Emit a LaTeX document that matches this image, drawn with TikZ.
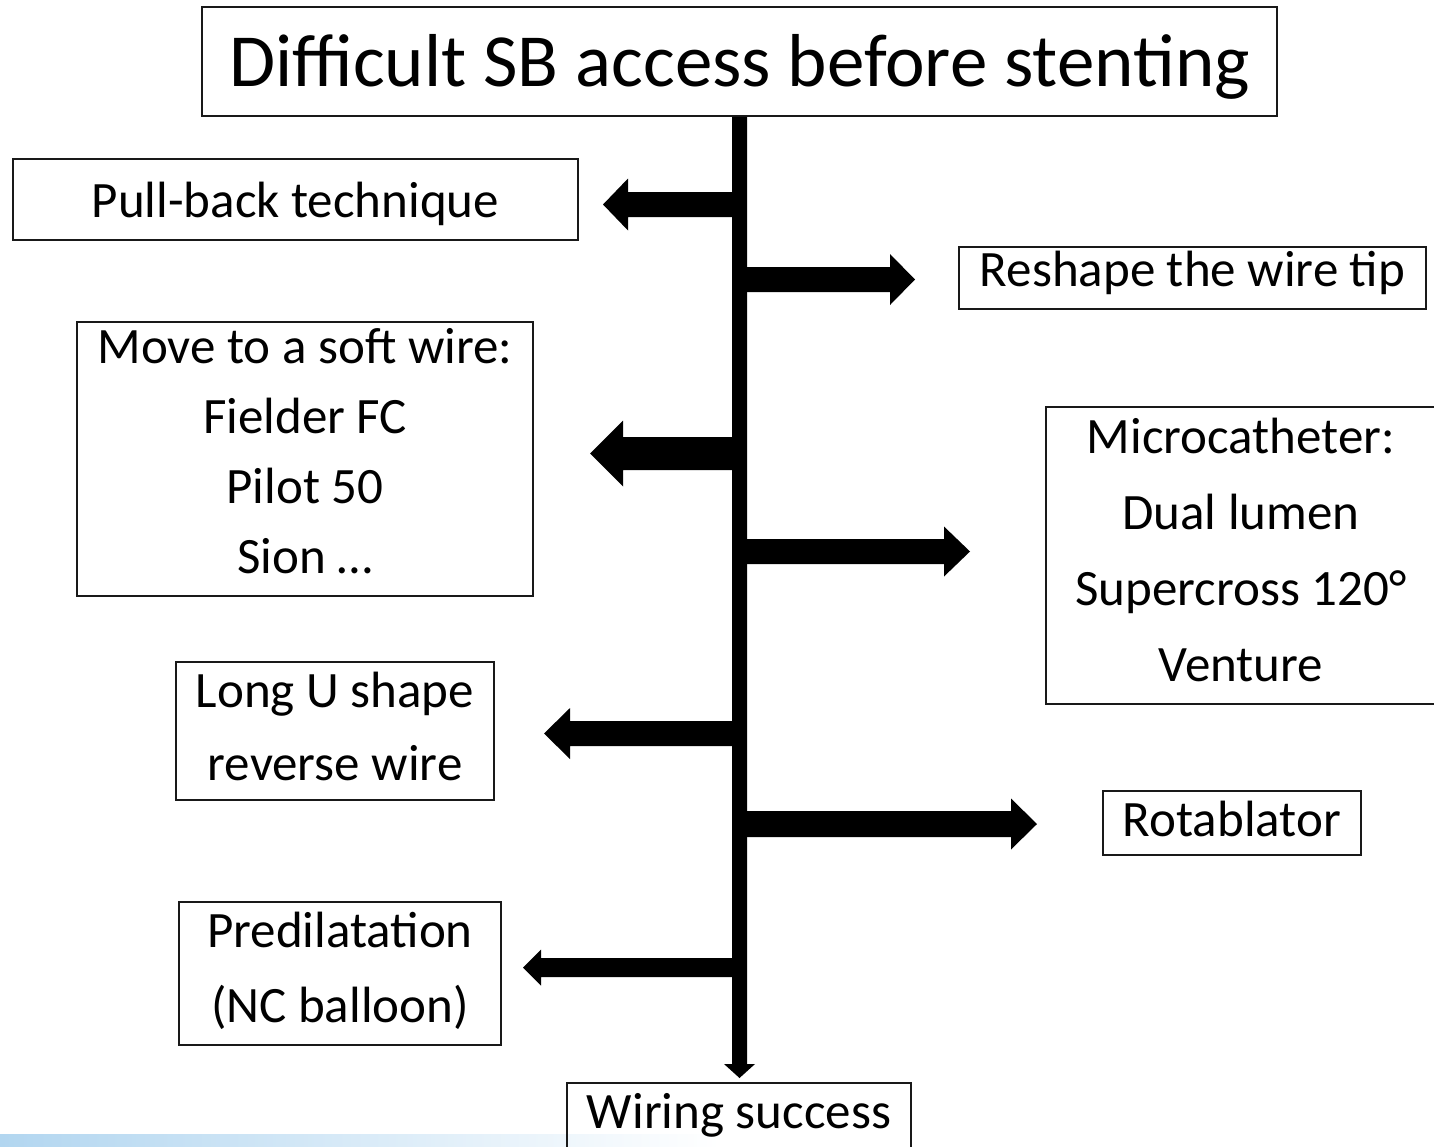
\documentclass[tikz,border=0pt]{standalone}
\usepackage{fontspec}
\setmainfont{Carlito}
\usetikzlibrary{calc}
\definecolor{barblue}{RGB}{178,214,240}
\tikzset{
  box/.style={draw=black!90, line width=1.5pt, inner sep=0pt},
  txt/.style={inner sep=0pt, align=center},
  fbig/.style={font=\fontsize{75}{90}\selectfont},
  fmid/.style={font=\fontsize{51}{#1}\selectfont},
  fmid/.default=72,
}
\newcommand\fatarrow[5]{\fill[black] let \p1=(#1),\p2=(#2) in
  (\x1,\y1-#3pt) -- (\x2-#5pt,\y1-#3pt) -- (\x2-#5pt,\y1-#4pt) -- (\x2,\y1)
  -- (\x2-#5pt,\y1+#4pt) -- (\x2-#5pt,\y1+#3pt) -- (\x1,\y1+#3pt) -- cycle;}
\newcommand\fatdown[5]{\fill[black] let \p1=(#1),\p2=(#2) in
  (\x1-#3pt,\y1) -- (\x1-#3pt,\y2+#5pt) -- (\x1-#4pt,\y2+#5pt) -- (\x1,\y2)
  -- (\x1+#4pt,\y2+#5pt) -- (\x1+#3pt,\y2+#5pt) -- (\x1+#3pt,\y1) -- cycle;}
\begin{document}
\begin{tikzpicture}[x=1pt,y=-1pt]
\useasboundingbox (0,0) rectangle (1434,1146);
\clip (0,0) rectangle (1434,1146);
\fill[white] (0,0) rectangle (1434,1146);
% bottom gradient bar
\shade[left color=barblue, right color=white] (0,1134) rectangle (720,1146);

% boxes
\node[box, minimum width=1075, minimum height=109] (title) at (739.5,61.5) {};
\node[box, minimum width=565, minimum height=81] (pull) at (295.5,199.5) {};
\node[box, minimum width=467, minimum height=62] (reshape) at (1192.5,278) {};
\node[box, minimum width=456, minimum height=274] (move) at (305,459) {};
\node[box, minimum width=390, minimum height=297] (micro) at (1241,555.5) {};
\node[box, minimum width=318, minimum height=138] (longu) at (335,731) {};
\node[box, minimum width=258, minimum height=64] (rota) at (1232,823) {};
\node[box, minimum width=322, minimum height=143] (predil) at (340,973.5) {};
\node[box, minimum width=344, minimum height=120] (wiring) at (739,1143) {};

% texts
\node[txt, fbig] (title-t) at (739.5,67) {Difficult SB access before stenting};
\node[txt, fmid] (pull-t) at (295.5,203.5) {Pull-back technique};
\node[txt, fmid] (reshape-t) at (1192.5,273) {Reshape the wire tip};
\node[txt, fmid=70] (move-t) at (305,451) {Move to a soft wire:\\Fielder FC\\Pilot 50\\Sion \ldots};
\node[txt, fmid=76] (micro-t) at (1241,549.5) {Microcatheter:\\Dual lumen\\Supercross 120°\\Venture};
\node[txt, fmid=73] (longu-t) at (335,726) {Long U shape\\reverse wire};
\node[txt, fmid] (rota-t) at (1232,818.5) {Rotablator};
\node[txt, fmid=75] (predil-t) at (340,970.5) {Predilatation\\(NC balloon)};
\node[txt, fmid] (wiring-t) at (739,1115) {Wiring success};

% trunk
\coordinate (trunktip) at (739.5,1078);
\fatdown{title.south}{trunktip}{7.5}{15.5}{14}

% branch arrows
\coordinate (s1) at (739.5,204.5); \coordinate (t1) at (603,204.5);
\coordinate (s2) at (739.5,279.5); \coordinate (t2) at (915,279.5);
\coordinate (s3) at (739.5,453.5); \coordinate (t3) at (590,453.5);
\coordinate (s4) at (739.5,551.5); \coordinate (t4) at (970,551.5);
\coordinate (s5) at (739.5,733.5); \coordinate (t5) at (544,733.5);
\coordinate (s6) at (739.5,824);   \coordinate (t6) at (1037,824);
\coordinate (s7) at (739.5,967.5); \coordinate (t7) at (523,967.5);
\fatarrow{s1}{t1}{12.5}{26}{-25}
\fatarrow{s2}{t2}{12.5}{25.5}{25}
\fatarrow{s3}{t3}{16.5}{33}{-33}
\fatarrow{s4}{t4}{12.5}{25}{26}
\fatarrow{s5}{t5}{12.5}{25.5}{-26}
\fatarrow{s6}{t6}{13}{25.5}{26}
\fatarrow{s7}{t7}{9.5}{18}{-18}
\end{tikzpicture}
\end{document}
